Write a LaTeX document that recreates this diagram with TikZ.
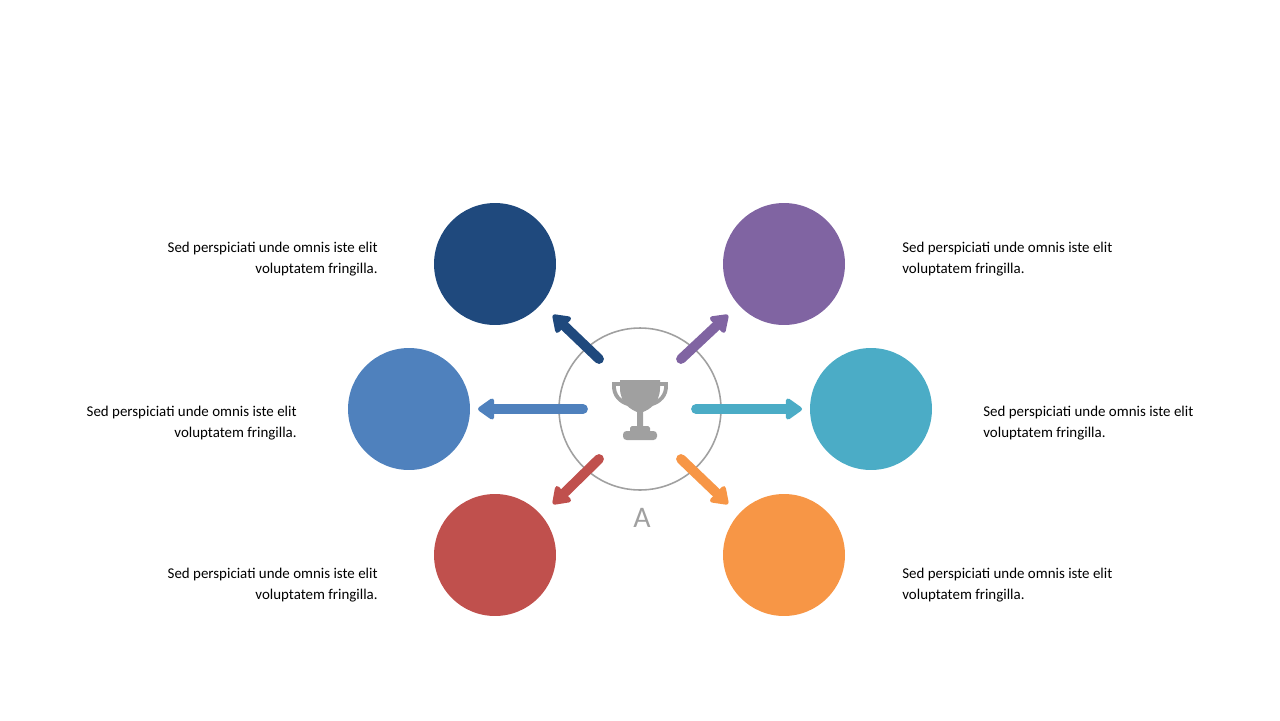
\documentclass[tikz,border=0pt]{standalone}
\usepackage{fontspec}
\setmainfont{Carlito}
\usetikzlibrary{arrows.meta}
\definecolor{cNavy}{HTML}{1F497D}
\definecolor{cPurple}{HTML}{8064A2}
\definecolor{cBlue}{HTML}{4F81BD}
\definecolor{cTeal}{HTML}{4BACC6}
\definecolor{cRed}{HTML}{C0504D}
\definecolor{cOrange}{HTML}{F79646}
\definecolor{cGray}{HTML}{A0A0A0}
\tikzset{
  ball/.style={circle,fill=#1,minimum size=2.44cm,inner sep=0pt},
  spoke/.style={line width=5.6pt,line cap=round,draw=#1,
    -{Triangle[width=0.48cm,length=0.36cm,round=false]}},
  note/.style={font=\fontsize{8.5}{12}\selectfont,inner sep=0pt}
}
\begin{document}
\begin{tikzpicture}[x=0.02cm,y=-0.02cm]
            \useasboundingbox (0,0) rectangle (1280,720);
            % Centre
            \node[circle,draw=cGray,line width=0.9pt,minimum size=3.24cm,inner sep=0pt] (hub) at (640,409) {};
            \node[text=cGray,font=\fontsize{17}{17}\selectfont] (lblA) at (642,518) {A};
            % Pokal
            \fill[cGray] (620,380) -- (660,380) -- (660,388) .. controls (660,404) and (648,410) .. (643,412) -- (643,427) -- (637,427) -- (637,412) .. controls (632,410) and (620,404) .. (620,388) -- cycle;
            \draw[cGray,line width=2.2pt] (621,384) -- (614,384) .. controls (613,396) and (621,402) .. (628,404);
            \draw[cGray,line width=2.2pt] (659,384) -- (666,384) .. controls (667,396) and (659,402) .. (652,404);
            \fill[cGray,rounded corners=1pt] (630,426) rectangle (650,433);
            \fill[cGray,rounded corners=2pt] (623,431) rectangle (657,440);
            % Kreise
            \node[ball=cNavy] (nw) at (495,264) {};
            \node[ball=cPurple] (ne) at (784,264) {};
            \node[ball=cBlue] (w) at (409,409) {};
            \node[ball=cTeal] (e) at (871,409) {};
            \node[ball=cRed] (sw) at (495,555) {};
            \node[ball=cOrange] (se) at (784,555) {};
            % Pfeile
            \coordinate (nw0) at (599,359); \coordinate (nw1) at (553,315);
            \coordinate (ne0) at (681,359); \coordinate (ne1) at (728,315);
            \coordinate (w0) at (583,409);  \coordinate (w1) at (478,409);
            \coordinate (e0) at (696,409);  \coordinate (e1) at (802,409);
            \coordinate (sw0) at (599,459); \coordinate (sw1) at (553,504);
            \coordinate (se0) at (681,459); \coordinate (se1) at (728,504);
            \draw[spoke=cNavy] (nw0) -- (nw1);
            \draw[spoke=cPurple] (ne0) -- (ne1);
            \draw[spoke=cBlue] (w0) -- (w1);
            \draw[spoke=cTeal] (e0) -- (e1);
            \draw[spoke=cRed] (sw0) -- (sw1);
            \draw[spoke=cOrange] (se0) -- (se1);
            % Texte
            \node[note,anchor=east,align=right] (tnw) at (378,259) {Sed perspiciati unde omnis iste elit\\voluptatem fringilla.};
            \node[note,anchor=west,align=left] (tne) at (902,259) {Sed perspiciati unde omnis iste elit\\voluptatem fringilla.};
            \node[note,anchor=east,align=right] (tw) at (297,423) {Sed perspiciati unde omnis iste elit\\voluptatem fringilla.};
            \node[note,anchor=west,align=left] (te) at (983,423) {Sed perspiciati unde omnis iste elit\\voluptatem fringilla.};
            \node[note,anchor=east,align=right] (tsw) at (378,585) {Sed perspiciati unde omnis iste elit\\voluptatem fringilla.};
            \node[note,anchor=west,align=left] (tse) at (902,585) {Sed perspiciati unde omnis iste elit\\voluptatem fringilla.};
\end{tikzpicture}
\end{document}
